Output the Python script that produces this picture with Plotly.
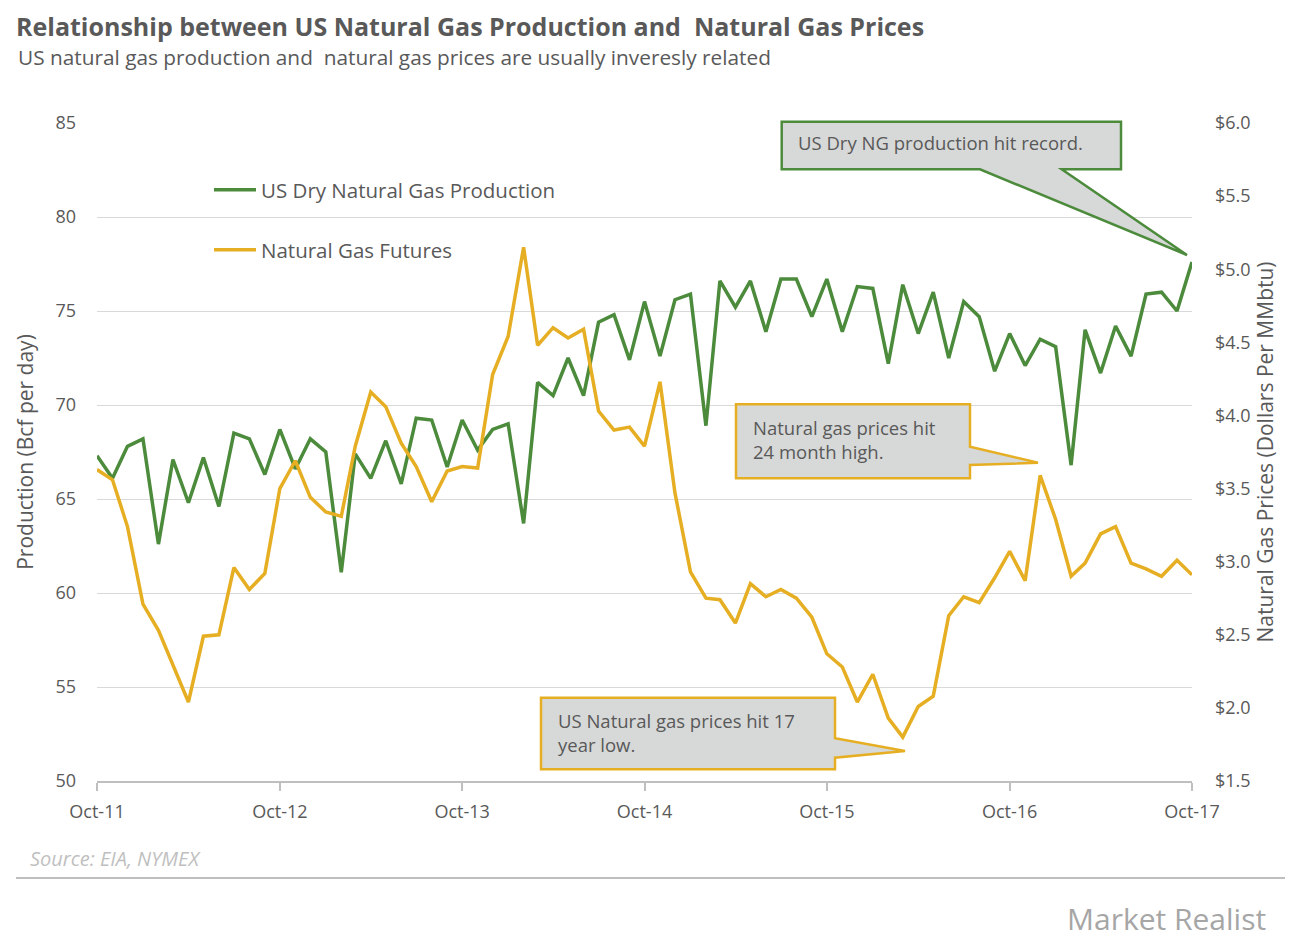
import pandas as pd
import plotly.graph_objects as go

# ---------------- data ----------------
months = pd.date_range("2011-10-01", periods=73, freq="MS")

production = [
    67.3, 66.1, 67.8, 68.2, 62.6, 67.1, 64.8, 67.2, 64.6, 68.5,
    68.2, 66.3, 68.7, 66.6, 68.2, 67.5, 61.1, 67.4, 66.1, 68.1,
    65.8, 69.3, 69.2, 66.7, 69.2, 67.6, 68.7, 69.0, 63.7, 71.2,
    70.5, 72.5, 70.5, 74.4, 74.8, 72.4, 75.5, 72.6, 75.6, 75.9,
    68.9, 76.6, 75.2, 76.6, 73.9, 76.7, 76.7, 74.7, 76.7, 73.9,
    76.3, 76.2, 72.2, 76.4, 73.8, 76.0, 72.5, 75.5, 74.7, 71.8,
    73.8, 72.1, 73.5, 73.1, 66.8, 74.0, 71.7, 74.2, 72.6, 75.9,
    76.0, 75.0, 77.6,
]

futures = [
    3.63, 3.56, 3.24, 2.71, 2.53, 2.29, 2.04, 2.49, 2.50, 2.96,
    2.81, 2.92, 3.50, 3.69, 3.44, 3.34, 3.31, 3.79, 4.16, 4.06,
    3.81, 3.65, 3.41, 3.62, 3.65, 3.64, 4.28, 4.54, 5.15, 4.48,
    4.60, 4.53, 4.59, 4.03, 3.90, 3.92, 3.79, 4.23, 3.47, 2.93,
    2.75, 2.74, 2.58, 2.85, 2.76, 2.81, 2.75, 2.62, 2.37, 2.28,
    2.04, 2.23, 1.93, 1.80, 2.01, 2.08, 2.63, 2.76, 2.72, 2.89,
    3.07, 2.87, 3.59, 3.29, 2.90, 2.99, 3.19, 3.24, 2.99, 2.95,
    2.90, 3.01, 2.91,
]

series_names = ["US Dry Natural Gas Production", "Natural Gas Futures"]
title_text = "Relationship between US Natural Gas Production and  Natural Gas Prices"
subtitle_text = "US natural gas production and  natural gas prices are usually inveresly related"
left_title = "Production (Bcf per day)"
right_title = "Natural Gas Prices (Dollars Per MMbtu)"
source_text = "Source: EIA, NYMEX"
callout_texts = [
    "US Dry NG production hit record.",
    "Natural gas prices hit<br>24 month high.",
    "US Natural gas prices hit 17<br>year low.",
]

# ---------------- style ----------------
GREEN = "#4B8B3B"
GOLD = "#E6AF23"
GRAY_TXT = "#595959"
FONT = "Open Sans"
W, H = 1311, 938
L, R, T, B = 97, 119, 123, 157
PW, PH = W - L - R, H - T - B


def px(xp):
    return (xp - L) / PW


def py(yp):
    return (H - B - yp) / PH


fig = go.Figure()
fig.add_trace(go.Scatter(
    x=months, y=production, name=series_names[0], mode="lines",
    line=dict(color=GREEN, width=3.5), legend="legend",
))
fig.add_trace(go.Scatter(
    x=months, y=futures, name=series_names[1], mode="lines",
    line=dict(color=GOLD, width=3.5), yaxis="y2", legend="legend2",
))

tickfont = dict(family=FONT, size=18, color=GRAY_TXT)
legfont = dict(family=FONT, size=20.5, color=GRAY_TXT)

fig.update_layout(
    width=W, height=H,
    margin=dict(l=L, r=R, t=T, b=B),
    paper_bgcolor="white", plot_bgcolor="white",
    font=dict(family=FONT, color=GRAY_TXT),
    showlegend=True,
    title=dict(
        text="<b>" + title_text + "</b>",
        x=16 / W, xanchor="left", xref="container",
        y=1 - 27 / H, yanchor="middle", yref="container",
        font=dict(family=FONT, size=25, color=GRAY_TXT),
    ),
    xaxis=dict(
        type="date",
        range=[months[0], months[-1]],
        tick0=months[0], dtick="M12", tickformat="%b-%y",
        showgrid=False, zeroline=False,
        showline=True, linecolor="#BFBFBF", linewidth=1.5,
        ticks="outside", ticklen=8, tickcolor="#BFBFBF", tickwidth=1.5,
        tickfont=tickfont, ticklabelstandoff=6,
    ),
    yaxis=dict(
        range=[50, 85], dtick=5,
        showgrid=True, gridcolor="#D9D9D9", gridwidth=1.2,
        zeroline=False, showline=False,
        tickfont=tickfont, ticklabelstandoff=20,
        title=dict(text=left_title, font=dict(family=FONT, size=21, color=GRAY_TXT), standoff=16),
    ),
    yaxis2=dict(
        range=[1.5, 6.0], dtick=0.5, tickprefix="$", tickformat=".1f",
        overlaying="y", side="right",
        showgrid=False, zeroline=False, showline=False,
        tickfont=tickfont, ticklabelstandoff=22,
        title=dict(text=right_title, font=dict(family=FONT, size=21, color=GRAY_TXT), standoff=2),
    ),
    legend=dict(
        x=px(209), y=py(190), xanchor="left", yanchor="middle", itemwidth=42,
        bgcolor="rgba(0,0,0,0)", font=legfont,
    ),
    legend2=dict(
        x=px(209), y=py(250), xanchor="left", yanchor="middle", itemwidth=42,
        bgcolor="rgba(0,0,0,0)", font=legfont,
    ),
)

# ---------------- callouts ----------------
def path(points):
    s = "M " + " L ".join(f"{px(a):.5f},{py(b):.5f}" for a, b in points) + " Z"
    return s

callouts = [
    ([(781.7, 121.7), (1121, 121.7), (1121, 169.3), (1061.7, 169.3), (1187, 255),
      (980, 169.3), (781.7, 169.3)], GREEN, (796, 143)),
    ([(736, 404.3), (970, 404.3), (970, 446.7), (1038, 462.7), (970, 465),
      (970, 478.3), (736, 478.3)], GOLD, (751, 439)),
    ([(541, 697.7), (835, 697.7), (835, 738.3), (905, 751), (835, 757.7),
      (835, 769.3), (541, 769.3)], GOLD, (556, 732)),
]
for (pts, col, (tx, ty)), txt in zip(callouts, callout_texts):
    fig.add_shape(type="path", xref="paper", yref="paper", path=path(pts),
                  fillcolor="#D7D8D8", line=dict(color=col, width=2.5), layer="above")
    fig.add_annotation(x=px(tx), y=py(ty), xref="paper", yref="paper",
                       xanchor="left", yanchor="middle", align="left",
                       text=txt, showarrow=False,
                       font=dict(family=FONT, size=18.5, color=GRAY_TXT))

# ---------------- header / footer ----------------
fig.add_annotation(x=px(16), y=py(57), xref="paper", yref="paper",
                   xanchor="left", yanchor="middle", text=subtitle_text, showarrow=False,
                   font=dict(family=FONT, size=20.8, color=GRAY_TXT))
fig.add_annotation(x=px(28), y=py(858), xref="paper", yref="paper",
                   xanchor="left", yanchor="middle", text="<i>" + source_text + "</i>",
                   showarrow=False, font=dict(family=FONT, size=20, color="#BFBFBF"))
fig.add_shape(type="line", xref="paper", yref="paper",
              x0=px(16), x1=px(1285), y0=py(878), y1=py(878),
              line=dict(color="#BFBFBF", width=2))
fig.add_annotation(x=px(1268), y=py(918), xref="paper", yref="paper",
                   xanchor="right", yanchor="middle", text="Market Realist",
                   showarrow=False, font=dict(family=FONT, size=30, color="#A6A6A6"))

fig.write_html("out.html")
